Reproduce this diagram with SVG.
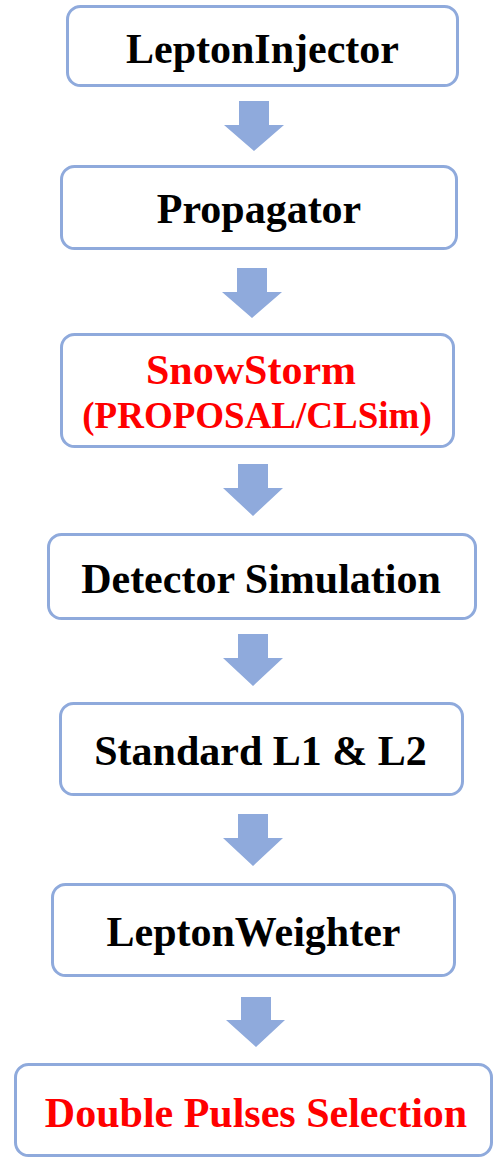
<svg xmlns="http://www.w3.org/2000/svg" width="493" height="1162" viewBox="0 0 493 1162">
  <style>
    .box { fill: #ffffff; stroke: #8faadc; stroke-width: 3; }
    .label { font-family: "Liberation Serif", "Times New Roman", serif; font-weight: bold; font-size: 42px; text-anchor: middle; fill: #000000; }
    .red { fill: #ff0000; }
    .small { font-size: 37px; }
    .flow { fill: #8faadc; }
  </style>
  <rect width="493" height="1162" fill="#ffffff"/>

  <!-- block arrows between stages -->
  <g id="connectors">
    <polygon class="flow" points="239,101 269,101 269,125 284,125 254,151 224,125 239,125"/>
    <polygon class="flow" points="237,268 267,268 267,292 282,292 252,318 222,292 237,292"/>
    <polygon class="flow" points="238,464 268,464 268,488 283,488 253,516 223,488 238,488"/>
    <polygon class="flow" points="238,634 268,634 268,658 283,658 253,686 223,658 238,658"/>
    <polygon class="flow" points="238,814 268,814 268,838 283,838 253,866 223,838 238,838"/>
    <polygon class="flow" points="241,997 271,997 271,1020 285,1020 256,1047 226,1020 241,1020"/>
  </g>

  <g id="lepton-injector">
    <rect class="box" x="67.5" y="6.5" width="390" height="79" rx="13"/>
    <text class="label" x="262.5" y="63">LeptonInjector</text>
  </g>

  <g id="propagator">
    <rect class="box" x="61.5" y="166.5" width="395" height="82" rx="13"/>
    <text class="label" x="259" y="223">Propagator</text>
  </g>

  <g id="snowstorm">
    <rect class="box" x="61.5" y="334.5" width="392" height="112" rx="13"/>
    <text class="label red" x="251" y="384">SnowStorm</text>
    <text class="label red small" x="257" y="428">(PROPOSAL/CLSim)</text>
  </g>

  <g id="detector-simulation">
    <rect class="box" x="48.5" y="534.5" width="427" height="84" rx="13"/>
    <text class="label" x="261" y="593">Detector Simulation</text>
  </g>

  <g id="standard-l1-l2">
    <rect class="box" x="60.5" y="703.5" width="402" height="91" rx="13"/>
    <text class="label" x="260.5" y="765">Standard L1 &amp; L2</text>
  </g>

  <g id="lepton-weighter">
    <rect class="box" x="52.5" y="884.5" width="402" height="91" rx="13"/>
    <text class="label" x="253.5" y="946">LeptonWeighter</text>
  </g>

  <g id="double-pulses-selection">
    <rect class="box" x="15.5" y="1064.5" width="476" height="91" rx="13"/>
    <text class="label red" x="256" y="1127">Double Pulses Selection</text>
  </g>
</svg>
